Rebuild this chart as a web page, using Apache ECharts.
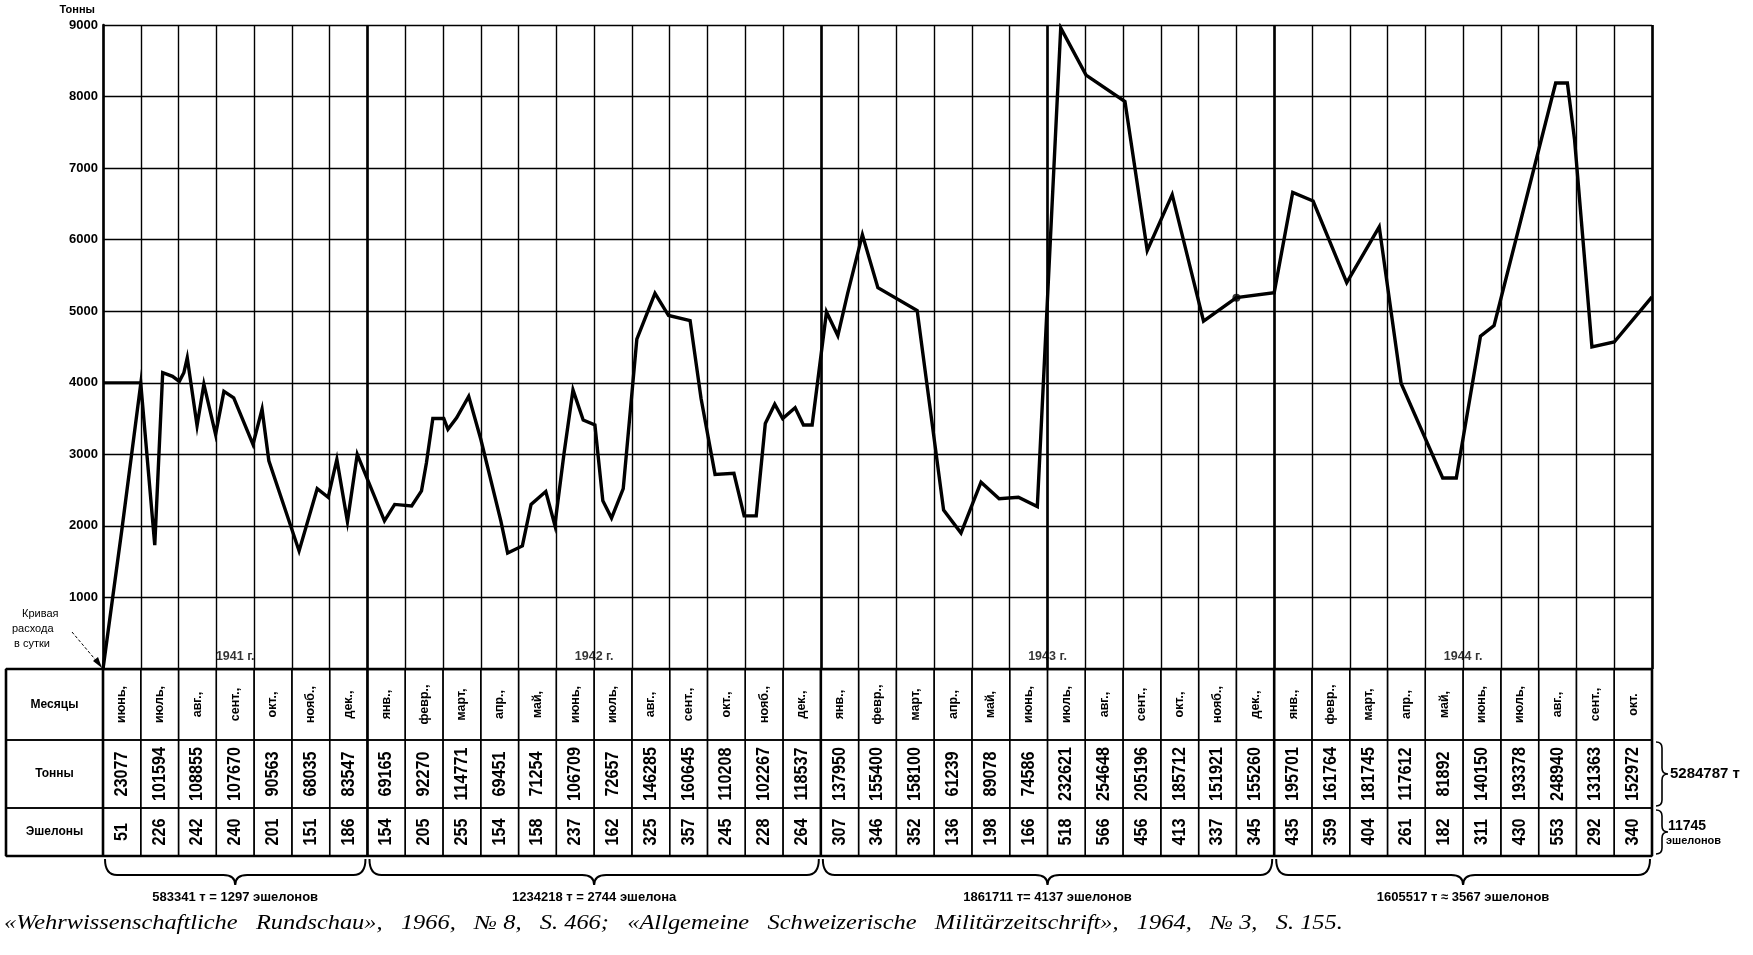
<!DOCTYPE html>
<html>
<head>
<meta charset="utf-8">
<script src="https://cdn.jsdelivr.net/npm/echarts@6/dist/echarts.min.js"></script>
<style>
html, body { margin: 0; padding: 0; background: #fff; }
#main { width: 1753px; height: 955px; }
</style>
</head>
<body>
<div id="main"></div>
<script>
// месяцы июнь 1941 - окт. 1944
var months = [
    'июнь,', 'июль,', 'авг.,', 'сент.,', 'окт.,', 'нояб.,', 'дек.,',
    'янв.,', 'февр.,', 'март,', 'апр.,', 'май,', 'июнь,', 'июль,', 'авг.,', 'сент.,', 'окт.,', 'нояб.,', 'дек.,',
    'янв.,', 'февр.,', 'март,', 'апр.,', 'май,', 'июнь,', 'июль,', 'авг.,', 'сент.,', 'окт.,', 'нояб.,', 'дек.,',
    'янв.,', 'февр.,', 'март,', 'апр.,', 'май,', 'июнь,', 'июль,', 'авг.,', 'сент.,', 'окт.'
];
var tonnes = [
    23077, 101594, 108855, 107670, 90563, 68035, 83547,
    69165, 92270, 114771, 69451, 71254, 106709, 72657, 146285, 160645, 110208, 102267, 118537,
    137950, 155400, 158100, 61239, 89078, 74586, 232621, 254648, 205196, 185712, 151921, 155260,
    195701, 161764, 181745, 117612, 81892, 140150, 193378, 248940, 131363, 152972
];
var echelons = [
    51, 226, 242, 240, 201, 151, 186,
    154, 205, 255, 154, 158, 237, 162, 325, 357, 245, 228, 264,
    307, 346, 352, 136, 198, 166, 518, 566, 456, 413, 337, 345,
    435, 359, 404, 261, 182, 311, 430, 553, 292, 340
];
var rowNames = ['Месяцы', 'Тонны', 'Эшелоны'];
var years = ['1941 г.', '1942 г.', '1943 г.', '1944 г.'];
var monthsPerYear = [7, 12, 12, 10];
var yearTotals = [
    '583341 т = 1297 эшелонов',
    '1234218 т = 2744 эшелона',
    '1861711 т= 4137 эшелонов',
    '1605517 т ≈ 3567 эшелонов'
];
var grandTonnes = '5284787 т';
var grandEchelons = ['11745', 'эшелонов'];

// кривая расхода в сутки: [месяц от начала июня 1941, тонн]
var dailyCurve = [
    [0, 0], [0.5, 1950], [1.0, 3990], [1.37, 1730], [1.58, 4140], [1.84, 4090], [2.02, 4020],
    [2.14, 4140], [2.23, 4350], [2.49, 3400], [2.67, 3980], [2.98, 3280], [3.2, 3880], [3.46, 3790],
    [3.97, 3140], [4.21, 3630], [4.39, 2910], [5.19, 1650], [5.67, 2520], [5.96, 2400], [6.19, 2930],
    [6.47, 2060], [6.73, 3000], [7.45, 2070], [7.72, 2300], [8.17, 2280], [8.43, 2490], [8.56, 2880],
    [8.73, 3500], [9.02, 3500], [9.13, 3350], [9.36, 3510], [9.68, 3810], [10.0, 3210], [10.53, 2070],
    [10.71, 1620], [11.1, 1720], [11.33, 2300], [11.72, 2480], [11.96, 2010], [12.2, 3000], [12.44, 3900],
    [12.71, 3480], [13.02, 3410], [13.23, 2350], [13.46, 2110], [13.77, 2520], [14.13, 4610], [14.61, 5250],
    [14.97, 4940], [15.54, 4870], [15.83, 3780], [16.2, 2720], [16.7, 2735], [16.97, 2140], [17.29, 2140],
    [17.53, 3430], [17.78, 3700], [17.99, 3500], [18.32, 3650], [18.54, 3410], [18.77, 3410], [19.15, 4990],
    [19.45, 4660], [19.71, 5250], [20.1, 6070], [20.51, 5330], [21.55, 5010], [22.25, 2220], [22.71, 1900],
    [23.24, 2610], [23.72, 2380], [24.23, 2400], [24.73, 2270], [25.35, 8960], [26.02, 8300], [27.05, 7930],
    [27.64, 5850], [28.3, 6630], [29.13, 4860], [30.0, 5190], [31.0, 5260], [31.49, 6660], [32.03, 6540],
    [32.92, 5400], [33.78, 6180], [34.36, 3990], [35.46, 2670], [35.82, 2670], [36.46, 4650], [36.82, 4800],
    [38.45, 8190], [38.76, 8190], [38.95, 7400], [39.41, 4500], [40.0, 4570], [41.0, 5200]
];
var startLevel = [[0, 4000], [1, 4000]];
var dotPoint = [[30.0, 5190]];
var thickMonthLines = [7, 19, 25, 31];

var citation = '«Wehrwissenschaftliche   Rundschau»,   1966,   № 8,   S. 466;   «Allgemeine   Schweizerische   Militärzeitschrift»,   1964,   № 3,   S. 155.';

// разметка
var L = 103, R = 1652, TOP = 25, ZERO = 669;
var TBL_LEFT = 6;
var rowEdges = [0, 71, 139, 187];
var colW = (R - L) / months.length;
var labelMin = -(L - TBL_LEFT) / colW;

var yearStart = [];
var acc = 0;
for (var k = 0; k < monthsPerYear.length; k++) {
    yearStart.push(acc);
    acc += monthsPerYear[k];
}

var cellData = [];
for (var r = 0; r < 3; r++) {
    for (var i = -1; i < months.length; i++) {
        cellData.push([i, r]);
    }
}

var FONT = '"Liberation Sans", "DejaVu Sans", sans-serif';

function cellText(i, r) {
    if (i < 0) return rowNames[r];
    if (r == 0) return months[i];
    if (r == 1) return String(tonnes[i]);
    return String(echelons[i]);
}

function renderCell(params, api) {
    var i = api.value(0), r = api.value(1);
    var x0 = api.coord([i < 0 ? labelMin : i, 0])[0];
    var x1 = api.coord([i < 0 ? 0 : i + 1, 0])[0];
    var y0 = api.coord([0, rowEdges[r]])[1];
    var y1 = api.coord([0, rowEdges[r + 1]])[1];
    var txt;
    if (i < 0) {
        txt = {
            type: 'text', x: (x0 + x1) / 2, y: (y0 + y1) / 2,
            style: { text: cellText(i, r), align: 'center', verticalAlign: 'middle',
                font: 'bold 12px ' + FONT, fill: '#000' }
        };
    } else if (r == 0) {
        txt = {
            type: 'text', x: (x0 + x1) / 2, y: (y0 + y1) / 2, rotation: Math.PI / 2,
            style: { text: cellText(i, r), align: 'center', verticalAlign: 'middle',
                font: 'bold 12.5px ' + FONT, fill: '#000' }
        };
    } else {
        txt = {
            type: 'text', x: (x0 + x1) / 2, y: (y0 + y1) / 2, rotation: Math.PI / 2,
            scaleX: 1.08, scaleY: 1.2,
            style: { text: cellText(i, r), align: 'center', verticalAlign: 'middle',
                font: 'bold 15px ' + FONT, fill: '#000' }
        };
    }
    return {
        type: 'group',
        children: [
            { type: 'rect', shape: { x: x0, y: y0, width: x1 - x0, height: y1 - y0 },
              style: { fill: 'none', stroke: '#000', lineWidth: 1.4 } },
            txt
        ]
    };
}

function renderFrame(params, api) {
    var children = [];
    var yt = api.coord([0, 0])[1], yb = api.coord([0, rowEdges[3]])[1];
    var bounds = [labelMin].concat(yearStart).concat([months.length]);
    for (var b = 0; b < bounds.length; b++) {
        var x = api.coord([bounds[b], 0])[0];
        children.push({ type: 'line', shape: { x1: x, y1: yt, x2: x, y2: yb },
            style: { stroke: '#000', lineWidth: 2.6 } });
    }
    var xl = api.coord([labelMin, 0])[0], xr = api.coord([months.length, 0])[0];
    children.push({ type: 'line', shape: { x1: xl, y1: yt, x2: xr, y2: yt }, style: { stroke: '#000', lineWidth: 2.4 } });
    children.push({ type: 'line', shape: { x1: xl, y1: yb, x2: xr, y2: yb }, style: { stroke: '#000', lineWidth: 2.4 } });
    return { type: 'group', children: children };
}

function renderBrace(params, api) {
    var k = api.value(0);
    var x0 = api.coord([yearStart[k], 0])[0] + 2;
    var x1 = api.coord([yearStart[k] + monthsPerYear[k], 0])[0] - 2;
    var y0 = api.coord([0, rowEdges[3]])[1] + 3;
    var xm = (x0 + x1) / 2, h = 16, tip = 26, q = 12;
    var p = 'M' + x0 + ' ' + y0 +
        ' Q' + x0 + ' ' + (y0 + h) + ' ' + (x0 + q) + ' ' + (y0 + h) +
        ' L' + (xm - q) + ' ' + (y0 + h) +
        ' Q' + xm + ' ' + (y0 + h) + ' ' + xm + ' ' + (y0 + tip) +
        ' Q' + xm + ' ' + (y0 + h) + ' ' + (xm + q) + ' ' + (y0 + h) +
        ' L' + (x1 - q) + ' ' + (y0 + h) +
        ' Q' + x1 + ' ' + (y0 + h) + ' ' + x1 + ' ' + y0;
    return {
        type: 'group',
        children: [
            { type: 'path', shape: { pathData: p }, style: { fill: 'none', stroke: '#000', lineWidth: 2 } },
            { type: 'text', x: xm, y: y0 + 38,
              style: { text: yearTotals[k], align: 'center', verticalAlign: 'middle',
                  font: 'bold 13px ' + FONT, fill: '#000' } }
        ]
    };
}

function renderSideBrace(params, api) {
    var r = api.value(0);
    var xL = api.coord([months.length, 0])[0] + 4;
    var y0 = api.coord([0, rowEdges[r]])[1] + 2;
    var y1 = api.coord([0, rowEdges[r + 1]])[1] - 2;
    var ym = (y0 + y1) / 2, w = 6, tip = 12, q = 6;
    var p = 'M' + xL + ' ' + y0 +
        ' Q' + (xL + w) + ' ' + y0 + ' ' + (xL + w) + ' ' + (y0 + q) +
        ' L' + (xL + w) + ' ' + (ym - q) +
        ' Q' + (xL + w) + ' ' + ym + ' ' + (xL + tip) + ' ' + ym +
        ' Q' + (xL + w) + ' ' + ym + ' ' + (xL + w) + ' ' + (ym + q) +
        ' L' + (xL + w) + ' ' + (y1 - q) +
        ' Q' + (xL + w) + ' ' + y1 + ' ' + xL + ' ' + y1;
    var children = [{ type: 'path', shape: { pathData: p }, style: { fill: 'none', stroke: '#000', lineWidth: 1.6 } }];
    if (r == 1) {
        children.push({ type: 'text', x: xL + tip + 2, y: ym,
            style: { text: grandTonnes, align: 'left', verticalAlign: 'middle', font: 'bold 15px ' + FONT, fill: '#000' } });
    } else {
        children.push({ type: 'text', x: xL + tip, y: ym - 6,
            style: { text: grandEchelons[0], align: 'left', verticalAlign: 'middle', font: 'bold 14px ' + FONT, fill: '#000' } });
        children.push({ type: 'text', x: xL + tip - 2, y: ym + 9,
            style: { text: grandEchelons[1], align: 'left', verticalAlign: 'middle', font: 'bold 11px ' + FONT, fill: '#000' } });
    }
    return { type: 'group', children: children };
}

var chart = echarts.init(document.getElementById('main'));

var option = {
    backgroundColor: '#fff',
    animation: false,
    grid: [
        { left: L, top: TOP, width: R - L, height: ZERO - TOP },
        { left: TBL_LEFT, top: ZERO, width: R - TBL_LEFT, height: rowEdges[3] }
    ],
    xAxis: [
        {
            gridIndex: 0, type: 'value', min: 0, max: months.length, interval: 1,
            axisLine: { show: false }, axisTick: { show: false }, axisLabel: { show: false },
            splitLine: { show: true, lineStyle: { color: '#000', width: 1.4 } }
        },
        { gridIndex: 1, type: 'value', min: labelMin, max: months.length, show: false }
    ],
    yAxis: [
        {
            gridIndex: 0, type: 'value', min: 0, max: 9000, interval: 1000,
            name: 'Тонны', nameLocation: 'end', nameGap: 10,
            nameTextStyle: { align: 'right', color: '#000', fontWeight: 'bold', fontSize: 11,
                fontFamily: FONT, padding: [0, 8, 0, 0] },
            axisLine: { show: true, lineStyle: { color: '#000', width: 2.6 } },
            axisTick: { show: false },
            axisLabel: { color: '#000', fontWeight: 'bold', fontSize: 13, fontFamily: FONT,
                margin: 5, showMinLabel: false,
                formatter: function (v) { return String(v); } },
            splitLine: { show: true, lineStyle: { color: '#000', width: 1.4 } }
        },
        { gridIndex: 1, type: 'value', min: 0, max: rowEdges[3], inverse: true, show: false }
    ],
    series: [
        {
            name: 'Кривая расхода в сутки',
            type: 'line', xAxisIndex: 0, yAxisIndex: 0,
            data: dailyCurve, showSymbol: false, symbol: 'none', z: 5,
            lineStyle: { color: '#000', width: 3.4, join: 'miter' },
            markLine: {
                silent: true, symbol: ['none', 'none'], label: { show: false },
                lineStyle: { color: '#000', width: 2.6, type: 'solid' },
                data: thickMonthLines.map(function (m) { return { xAxis: m }; })
                    .concat([{ xAxis: months.length }])
            }
        },
        {
            type: 'line', xAxisIndex: 0, yAxisIndex: 0, data: startLevel,
            showSymbol: false, symbol: 'none', z: 4,
            lineStyle: { color: '#000', width: 3 }
        },
        {
            type: 'scatter', xAxisIndex: 0, yAxisIndex: 0, data: dotPoint,
            symbolSize: 8, itemStyle: { color: '#000' }, z: 6
        },
        {
            type: 'scatter', xAxisIndex: 0, yAxisIndex: 0, symbolSize: 0, z: 6,
            data: years.map(function (y, k) {
                return { name: y, value: [yearStart[k] + monthsPerYear[k] / 2, 0] };
            }),
            label: { show: true, position: 'top', distance: 6, formatter: '{b}',
                color: '#000', fontWeight: 'bold', fontSize: 12.5, fontFamily: FONT }
        },
        {
            type: 'custom', xAxisIndex: 1, yAxisIndex: 1, data: cellData,
            renderItem: renderCell, silent: true
        },
        {
            type: 'custom', xAxisIndex: 1, yAxisIndex: 1, data: [[0, 0]],
            renderItem: renderFrame, silent: true, z: 3
        },
        {
            type: 'custom', xAxisIndex: 1, yAxisIndex: 1,
            data: years.map(function (y, k) { return [k, 0]; }),
            renderItem: renderBrace, silent: true, clip: false
        },
        {
            type: 'custom', xAxisIndex: 1, yAxisIndex: 1, data: [[1, 0], [2, 0]],
            renderItem: renderSideBrace, silent: true, clip: false
        }
    ],
    graphic: [
        { type: 'text', left: 22, top: 608, style: { text: 'Кривая', font: '11px ' + FONT, fill: '#000' } },
        { type: 'text', left: 12, top: 623, style: { text: 'расхода', font: '11px ' + FONT, fill: '#000' } },
        { type: 'text', left: 14, top: 638, style: { text: 'в сутки', font: '11px ' + FONT, fill: '#000' } },
        { type: 'line', shape: { x1: 72, y1: 632, x2: 99, y2: 664 },
          style: { stroke: '#000', lineWidth: 1, lineDash: [3, 2] } },
        { type: 'polygon', shape: { points: [[102, 668], [93, 661], [98, 657]] }, style: { fill: '#000' } },
        { type: 'text', x: 4, y: 914, scaleX: 1.22,
          style: { text: citation, font: 'italic 20px "Liberation Serif", "DejaVu Serif", serif', fill: '#000' } }
    ]
};

chart.setOption(option);
</script>
</body>
</html>
